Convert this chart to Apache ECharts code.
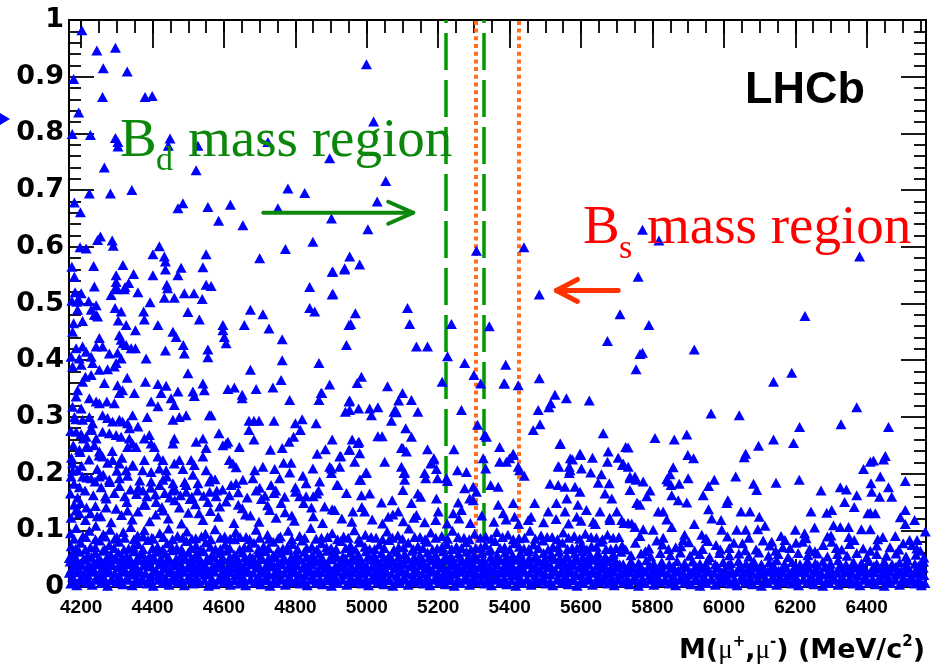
<!DOCTYPE html>
<html>
<head>
<meta charset="utf-8">
<script src="https://cdn.jsdelivr.net/npm/echarts@6/dist/echarts.min.js"></script>
<style>
  html, body { margin: 0; padding: 0; background: #ffffff; }
  #chart { width: 940px; height: 669px; }
</style>
</head>
<body>
<div id="chart"></div>
<script>
// Dimuon invariant mass window and vertical range
const massRange = [4166, 6566];
const yRange = [0, 1];

// Signal windows (MeV/c^2)
const bdWindow = [5221, 5327];
const bsWindow = [5306, 5426];

// Tick positions
const massMajorTicks = [4200, 4400, 4600, 4800, 5000, 5200, 5400, 5600, 5800, 6000, 6200, 6400];
const massMinorTicks = [4200, 4250, 4300, 4350, 4400, 4450, 4500, 4550, 4600, 4650, 4700, 4750,
  4800, 4850, 4900, 4950, 5000, 5050, 5100, 5150, 5200, 5250, 5300, 5350, 5400, 5450, 5500, 5550,
  5600, 5650, 5700, 5750, 5800, 5850, 5900, 5950, 6000, 6050, 6100, 6150, 6200, 6250, 6300, 6350,
  6400, 6450, 6500, 6550];
const yMajorTicks = [0, 0.1, 0.2, 0.3, 0.4, 0.5, 0.6, 0.7, 0.8, 0.9, 1];
const yMinorTicks = [0.02, 0.04, 0.06, 0.08, 0.12, 0.14, 0.16, 0.18, 0.22, 0.24, 0.26, 0.28,
  0.32, 0.34, 0.36, 0.38, 0.42, 0.44, 0.46, 0.48, 0.52, 0.54, 0.56, 0.58, 0.62, 0.64, 0.66, 0.68,
  0.72, 0.74, 0.76, 0.78, 0.82, 0.84, 0.86, 0.88, 0.92, 0.94, 0.96, 0.98];

// Candidates as flat (mass, y) pairs: sparse upper part
const upperEvents = [
  4202,.982, 4244,.946, 4296,.951, 4262,.915, 4329,.909, 4179,.896, 4260,.864, 4379,.864, 4399,.866,
  4193,.837, 4175,.799, 4226,.797, 4296,.792, 4303,.785, 4303,.777, 4449,.791, 4444,.778, 4527,.778,
  4723,.785, 4522,.735, 4265,.740, 4342,.700, 4282,.694, 4223,.694, 4181,.678, 4198,.661, 4471,.668,
  4485,.677, 4555,.670, 4618,.674, 4585,.646, 4653,.638, 4751,.668, 4779,.703, 4826,.695, 4197,.599,
  4214,.597, 4246,.612, 4254,.618, 4287,.611, 4290,.602, 4419,.601, 4401,.587, 4433,.583, 4436,.574,
  4480,.563, 4550,.587, 4541,.564, 4700,.580, 4772,.596, 4849,.609, 4840,.529, 4840,.492, 4854,.486,
  4174,.565, 4181,.547, 4235,.566, 4237,.530, 4183,.520, 4200,.518, 4188,.503, 4221,.504, 4242,.497,
  4228,.489, 4242,.480, 4204,.469, 4179,.465, 4284,.515, 4298,.550, 4298,.538, 4298,.530, 4317,.568,
  4323,.529, 4333,.536, 4347,.552, 4359,.520, 4295,.492, 4312,.486, 4304,.470, 4326,.462, 4375,.486,
  4377,.472, 4393,.502, 4401,.550, 4440,.533, 4442,.527, 4433,.510, 4461,.510, 4471,.550, 4489,.518,
  4516,.518, 4539,.508, 4499,.485, 4531,.472, 4550,.533, 4564,.531, 4415,.462, 4597,.462, 4657,.462,
  4674,.489, 4709,.481, 4999,.922, 5019,.821, 4896,.756, 5053,.716, 5029,.680, 4901,.650, 5003,.631,
  4952,.583, 4938,.562, 4980,.569, 4905,.556, 4905,.517, 4968,.483, 4955,.464, 5114,.492, 5120,.464,
  5237,.464, 5307,.593, 5343,.460, 5440,.599, 5483,.516, 5709,.481, 5760,.547, 5772,.630, 5818,.611,
  5790,.462, 6227,.478, 6380,.583, 4436,.560, 4298,.525, 4321,.525, 4174,.505, 4195,.505, 4190,.489,
  4237,.480, 4246,.477, 4176,.450, 4352,.453, 4457,.450, 4903,.556, 4938,.560, 4903,.516, 4597,.453,
  4726,.456, 4950,.462
];

// Middle band
const middleEvents = [
  4466,.441, 4251,.439, 4307,.444, 4312,.436, 4317,.430, 4326,.427, 4242,.424, 4260,.424, 4340,.421,
  4352,.421, 4486,.427, 4489,.412, 4436,.417, 4555,.419, 4555,.405, 4186,.421, 4204,.424, 4214,.415,
  4172,.406, 4195,.403, 4228,.406, 4232,.395, 4279,.412, 4302,.413, 4312,.403, 4298,.395, 4293,.389,
  4382,.403, 4176,.389, 4200,.392, 4251,.383, 4274,.384, 4499,.377, 4212,.371, 4228,.374, 4204,.362,
  4329,.369, 4265,.360, 4302,.356, 4316,.347, 4307,.342, 4380,.362, 4415,.358, 4438,.355, 4424,.342,
  4471,.345, 4513,.345, 4517,.337, 4541,.359, 4545,.347, 4349,.342, 4190,.347, 4186,.336, 4223,.333,
  4242,.327, 4251,.324, 4272,.327, 4293,.324, 4396,.327, 4415,.319, 4452,.333, 4461,.321, 4475,.300,
  4457,.295, 4494,.303, 4559,.303, 4176,.318, 4200,.315, 4181,.300, 4204,.295, 4223,.300, 4232,.289,
  4260,.303, 4274,.298, 4288,.292, 4307,.295, 4316,.292, 4330,.289, 4344,.303, 4359,.283, 4335,.280,
  4385,.300, 4186,.274, 4200,.270, 4214,.265, 4228,.277, 4242,.262, 4260,.274, 4279,.271, 4298,.268,
  4312,.265, 4335,.262, 4344,.253, 4354,.247, 4330,.247, 4377,.262, 4391,.268, 4396,.253, 4405,.247,
  4461,.262, 4457,.253, 4522,.256, 4541,.262, 4550,.245, 4377,.224, 4415,.230, 4429,.224, 4461,.218,
  4475,.224, 4508,.224, 4517,.215, 4541,.230, 4195,.242, 4214,.247, 4237,.250, 4251,.239, 4260,.230,
  4288,.224, 4307,.218, 4326,.206, 4344,.215, 4372,.206, 4396,.203, 4419,.209, 4438,.206, 4485,.208,
  4513,.198, 4550,.206, 4176,.218, 4190,.206, 4172,.195, 4204,.195, 4228,.192, 4251,.195, 4279,.189,
  4307,.192, 4396,.186, 4429,.189, 4457,.183, 4494,.180, 4527,.183, 4559,.186,
  4601,.441, 4606,.430, 4763,.437, 4763,.400, 4866,.395, 4674,.383, 4760,.365, 4737,.352, 4690,.349,
  4629,.352, 4611,.349, 4651,.339, 4651,.333, 4784,.330, 4866,.330, 4872,.342, 4950,.327, 4564,.303,
  4670,.293, 4684,.293, 4698,.293, 4670,.277, 4684,.260, 4740,.293, 4800,.289, 4819,.296, 4814,.277,
  4795,.265, 4858,.289, 4586,.271, 4606,.253, 4643,.247, 4597,.250, 4611,.256, 4782,.256, 4763,.245,
  4730,.242, 4861,.235, 4924,.230, 4950,.242, 4615,.224, 4625,.218, 4634,.211, 4686,.206, 4709,.212,
  4742,.208, 4767,.219, 4788,.219, 4784,.202, 4849,.209, 4821,.196, 4901,.209, 4924,.212, 4564,.192,
  4634,.183, 4653,.189, 4681,.192, 4732,.180, 4756,.192, 4830,.183, 4868,.186, 4919,.180,
  4943,.427, 5139,.424, 5170,.424, 5674,.434, 5765,.411, 5226,.407, 5274,.395, 5389,.392, 5300,.374,
  4985,.371, 4973,.360, 4896,.357, 5058,.354, 5211,.362, 5319,.359, 5384,.359, 5424,.356, 5483,.368,
  4874,.342, 5100,.342, 5089,.329, 5125,.330, 5527,.339, 5559,.333, 5623,.329, 5515,.324, 5510,.317,
  4952,.329, 4940,.309, 4952,.312, 4977,.315, 5008,.315, 5013,.303, 5031,.317, 5080,.312, 5076,.309,
  5143,.309, 5265,.312, 5480,.312, 5485,.287, 5466,.277, 5069,.293, 5109,.280, 5310,.286, 5330,.268,
  5662,.271, 5031,.266, 5043,.266, 5125,.265, 4903,.260, 4959,.260, 4975,.254, 5372,.247, 5541,.252,
  5725,.247, 5676,.239, 5101,.245, 5111,.239, 5170,.243, 5244,.243, 4884,.243, 4927,.231, 4980,.236,
  5050,.221, 5188,.227, 5180,.219, 5410,.233, 5400,.227, 5372,.221, 5424,.212, 5441,.196, 5570,.227,
  5599,.233, 5632,.228, 5674,.221, 5704,.228, 5716,.215, 5538,.212, 5567,.212, 5601,.209, 5627,.202,
  5657,.199, 5567,.201, 4896,.212, 4901,.201, 4966,.221, 4997,.201, 4983,.189, 5097,.212, 5104,.201,
  5162,.201, 5198,.192, 5226,.187, 5254,.206, 5279,.203, 5274,.174, 5347,.180, 5368,.177, 5298,.177,
  5513,.182, 5536,.180, 5555,.177, 5583,.177, 5597,.168, 5648,.184, 5679,.183, 5667,.165, 5686,.156,
  5737,.171, 5758,.148, 4916,.180, 4943,.166, 4985,.162, 5008,.165, 5041,.149, 5071,.153, 5101,.171,
  5125,.148, 5143,.165, 5151,.159, 5195,.156, 5256,.149, 5288,.156, 5307,.168, 5298,.153, 5368,.145,
  5410,.148, 5470,.148, 5531,.148, 5560,.156, 5591,.145, 5615,.136, 5653,.133, 5700,.133, 4882,.142,
  4910,.136, 4961,.133, 4994,.133, 5060,.124, 5088,.133, 5139,.127, 5200,.133, 5242,.130, 5265,.136,
  5382,.130, 5414,.124, 5452,.118, 5508,.133, 5555,.133, 5588,.124, 5634,.115, 5681,.118, 5714,.118,
  5742,.112, 5083,.308, 4978,.256, 4952,.242, 5097,.245, 5187,.225, 5181,.218, 5106,.202, 4999,.202,
  4980,.189, 5106,.189, 5165,.192, 5195,.208, 5223,.192, 5326,.227, 5333,.209, 5386,.359, 5335,.265,
  5410,.235, 5391,.221, 5542,.253, 5597,.235, 5576,.225, 5428,.206, 5536,.213, 5569,.206, 5737,.195,
  5732,.246, 5754,.189, 5844,.186,
  5772,.413, 5754,.384, 5917,.419, 6139,.362, 6190,.378, 5964,.306, 6043,.303, 6372,.317, 6328,.287,
  6212,.282, 6461,.282, 5807,.263, 5861,.260, 5896,.269, 6139,.260, 6195,.254, 6097,.249, 6061,.235,
  6057,.229, 5899,.233, 5915,.227, 5718,.218, 5732,.212, 6391,.208, 6410,.221, 6419,.223, 6452,.231,
  6447,.225, 5858,.211, 5849,.199, 5840,.190, 5737,.192, 5751,.195, 5774,.186, 5900,.192, 5973,.189,
  6033,.195, 5957,.178, 5875,.182, 5852,.180, 6083,.182, 6092,.171, 6146,.184, 6211,.189, 6272,.170,
  6326,.176, 6343,.172, 6372,.162, 6412,.183, 6414,.168, 6438,.195, 6461,.176, 6470,.159, 6436,.159,
  6508,.187, 5942,.162, 5896,.149, 5872,.153, 5854,.162, 5793,.170, 5784,.160, 5756,.148, 5765,.145,
  6011,.153, 6008,.148, 6048,.133, 6073,.133, 6099,.124, 5957,.137, 5992,.118, 5966,.121, 5917,.111,
  5816,.133, 5830,.133, 5840,.119, 5732,.113, 6244,.133, 6288,.131, 6302,.136, 6338,.150, 6365,.141,
  6410,.131, 6424,.130, 6403,.130, 6494,.123, 6508,.136, 6534,.118, 6508,.111, 6564,.098, 6541,.083,
  6527,.074, 6559,.045, 6200,.101, 6254,.105, 6226,.095, 6326,.106, 6349,.106, 6307,.109, 6385,.102,
  6410,.102, 6431,.084, 6302,.080, 6171,.083, 6134,.080, 6115,.108, 6095,.102, 6036,.101, 6061,.101,
  5994,.101, 5938,.092, 5854,.106, 5886,.083, 5802,.101, 5774,.102, 5751,.106
];

// Dense lower band
const lowerEvents = [
  // y ~ 0.00 - 0.01
  4171,.006, 4188,.003, 4213,.008, 4231,.004, 4256,.007, 4274,.002, 4299,.009, 4317,.005, 4343,.003,
  4360,.008, 4385,.006, 4402,.002, 4428,.007, 4446,.004, 4471,.009, 4489,.003, 4514,.006, 4531,.008,
  4557,.002, 4575,.005, 4600,.009, 4618,.004, 4643,.006, 4661,.003, 4686,.008, 4704,.005, 4729,.002,
  4747,.007, 4772,.004, 4790,.009, 4815,.006, 4833,.003, 4858,.008, 4876,.005, 4901,.002, 4919,.007,
  4944,.004, 4962,.009, 4987,.006, 5005,.003, 5030,.008, 5048,.005, 5073,.002, 5091,.007, 5116,.004,
  5134,.009, 5159,.006, 5177,.003, 5202,.008, 5220,.005, 5245,.002, 5263,.007, 5288,.004, 5306,.009,
  5331,.006, 5349,.003, 5374,.008, 5392,.005, 5417,.002, 5435,.007, 5460,.004, 5478,.009, 5503,.006,
  5521,.003, 5546,.008, 5564,.005, 5589,.002, 5607,.007, 5632,.004, 5650,.009, 5675,.006, 5693,.003,
  5718,.008, 5736,.005, 5761,.002, 5779,.007, 5804,.004, 5822,.009, 5847,.006, 5865,.003, 5890,.008,
  5908,.005, 5933,.002, 5951,.007, 5976,.004, 5994,.009, 6019,.006, 6037,.003, 6062,.008, 6080,.005,
  6105,.002, 6123,.007, 6148,.004, 6166,.009, 6191,.006, 6209,.003, 6234,.008, 6252,.005, 6277,.002,
  6295,.007, 6320,.004, 6338,.009, 6363,.006, 6381,.003, 6406,.008, 6424,.005, 6449,.002, 6467,.007,
  6492,.004, 6510,.009, 6535,.006, 6553,.003, 6563,.007,
  // y ~ 0.010 - 0.013
  4181,.011, 4201,.012, 4222,.010, 4244,.013, 4265,.011, 4287,.012, 4309,.010, 4330,.013, 4352,.011,
  4373,.012, 4395,.010, 4416,.013, 4438,.011, 4459,.012, 4481,.010, 4502,.013, 4524,.011, 4545,.012,
  4567,.010, 4588,.013, 4610,.011, 4631,.012, 4653,.010, 4674,.013, 4696,.011, 4717,.012, 4739,.010,
  4760,.013, 4782,.011, 4803,.012, 4825,.010, 4846,.013, 4868,.011, 4889,.012, 4911,.010, 4932,.013,
  4954,.011, 4975,.012, 4997,.010, 5018,.013, 5040,.011, 5061,.012, 5083,.010, 5104,.013, 5126,.011,
  5147,.012, 5169,.010, 5190,.013, 5212,.011, 5233,.012, 5255,.010, 5276,.013, 5298,.011, 5319,.012,
  5341,.010, 5362,.013, 5384,.011, 5405,.012, 5427,.010, 5448,.013, 5470,.011, 5491,.012, 5513,.010,
  5534,.013, 5556,.011, 5577,.012, 5599,.010, 5620,.013, 5642,.011, 5663,.012, 5685,.010, 5706,.013,
  5728,.011, 5749,.012, 5771,.010, 5792,.013, 5814,.011, 5835,.012, 5857,.010, 5878,.013, 5900,.011,
  5921,.012, 5943,.010, 5964,.013, 5986,.011, 6007,.012, 6029,.010, 6050,.013, 6072,.011, 6093,.012,
  6115,.010, 6136,.013, 6158,.011, 6179,.012, 6201,.010, 6222,.013, 6244,.011, 6265,.012, 6287,.010,
  6308,.013, 6330,.011, 6351,.012, 6373,.010, 6394,.013, 6416,.011, 6437,.012, 6459,.010, 6480,.013,
  6502,.011, 6523,.012, 6545,.010,
  // y ~ 0.014 - 0.022
  4176,.018, 4198,.015, 4219,.021, 4242,.016, 4262,.019, 4285,.014, 4306,.020, 4329,.017, 4351,.022,
  4371,.015, 4393,.018, 4416,.021, 4437,.016, 4458,.019, 4481,.014, 4502,.020, 4523,.017, 4546,.022,
  4566,.015, 4589,.019, 4610,.016, 4632,.021, 4653,.018, 4675,.014, 4697,.020, 4718,.017, 4739,.022,
  4761,.016, 4783,.019, 4804,.015, 4826,.021, 4847,.018, 4869,.014, 4890,.020, 4912,.017, 4933,.022,
  4955,.016, 4976,.019, 4998,.015, 5019,.021, 5041,.018, 5062,.014, 5084,.020, 5105,.017, 5127,.022,
  5148,.016, 5170,.019, 5191,.015, 5213,.021, 5234,.018, 5256,.014, 5277,.020, 5299,.017, 5320,.022,
  5342,.016, 5363,.019, 5385,.015, 5406,.021, 5428,.018, 5449,.014, 5471,.020, 5492,.017, 5514,.022,
  5535,.016, 5557,.019, 5578,.015, 5600,.021, 5621,.018, 5643,.014, 5664,.020, 5686,.017, 5707,.022,
  5729,.016, 5750,.019, 5772,.015, 5793,.021, 5815,.018, 5836,.014, 5858,.020, 5879,.017, 5901,.022,
  5922,.016, 5944,.019, 5965,.015, 5987,.021, 6008,.018, 6030,.014, 6051,.020, 6073,.017, 6094,.022,
  6116,.016, 6137,.019, 6159,.015, 6180,.021, 6202,.018, 6223,.014, 6245,.020, 6266,.017, 6288,.022,
  6309,.016, 6331,.019, 6352,.015, 6374,.021, 6395,.018, 6417,.014, 6438,.020, 6460,.017, 6481,.022,
  6503,.016, 6524,.019, 6546,.015, 6560,.021,
  // y ~ 0.024 - 0.027
  4167,.025, 4187,.026, 4208,.024, 4230,.027, 4251,.025, 4273,.026, 4295,.024, 4316,.027, 4338,.025,
  4359,.026, 4381,.024, 4402,.027, 4424,.025, 4445,.026, 4467,.024, 4488,.027, 4510,.025, 4531,.026,
  4553,.024, 4574,.027, 4596,.025, 4617,.026, 4639,.024, 4660,.027, 4682,.025, 4703,.026, 4725,.024,
  4746,.027, 4768,.025, 4789,.026, 4811,.024, 4832,.027, 4854,.025, 4875,.026, 4897,.024, 4918,.027,
  4940,.025, 4961,.026, 4983,.024, 5004,.027, 5026,.025, 5047,.026, 5069,.024, 5090,.027, 5112,.025,
  5133,.026, 5155,.024, 5176,.027, 5198,.025, 5219,.026, 5241,.024, 5262,.027, 5284,.025, 5305,.026,
  5327,.024, 5348,.027, 5370,.025, 5391,.026, 5413,.024, 5434,.027, 5456,.025, 5477,.026, 5499,.024,
  5520,.027, 5542,.025, 5563,.026, 5585,.024, 5606,.027, 5628,.025, 5649,.026, 5671,.024, 5692,.027,
  5714,.025, 5735,.026, 5757,.024, 5778,.027, 5800,.025, 5821,.026, 5843,.024, 5864,.027, 5886,.025,
  5907,.026, 5929,.024, 5950,.027, 5972,.025, 5993,.026, 6015,.024, 6036,.027, 6058,.025, 6079,.026,
  6101,.024, 6122,.027, 6144,.025, 6165,.026, 6187,.024, 6208,.027, 6230,.025, 6251,.026, 6273,.024,
  6294,.027, 6316,.025, 6337,.026, 6359,.024, 6380,.027, 6402,.025, 6423,.026, 6445,.024, 6466,.027,
  6488,.025, 6509,.026, 6531,.024, 6552,.027,
  // y ~ 0.027 - 0.036
  4172,.031, 4193,.028, 4216,.034, 4237,.029, 4259,.033, 4280,.027, 4302,.035, 4323,.030, 4346,.032,
  4366,.028, 4389,.036, 4410,.029, 4432,.033, 4452,.031, 4475,.027, 4497,.034, 4518,.030, 4540,.032,
  4561,.028, 4583,.035, 4604,.029, 4626,.033, 4647,.031, 4669,.027, 4691,.034, 4712,.030, 4733,.036,
  4755,.028, 4777,.032, 4798,.029, 4820,.034, 4841,.031, 4863,.027, 4884,.033, 4906,.030, 4927,.035,
  4949,.028, 4970,.032, 4992,.029, 5013,.034, 5035,.031, 5056,.027, 5078,.033, 5099,.030, 5121,.036,
  5142,.028, 5164,.032, 5185,.029, 5207,.034, 5228,.031, 5250,.027, 5271,.033, 5293,.030, 5314,.035,
  5336,.028, 5357,.032, 5379,.029, 5400,.034, 5422,.031, 5443,.027, 5465,.033, 5486,.030, 5508,.035,
  5529,.028, 5551,.032, 5572,.029, 5594,.034, 5615,.031, 5637,.027, 5658,.033, 5680,.030, 5701,.035,
  5723,.028, 5744,.032, 5766,.029, 5787,.034, 5809,.031, 5830,.027, 5852,.033, 5873,.030, 5895,.035,
  5916,.028, 5938,.032, 5959,.029, 5981,.034, 6002,.031, 6024,.027, 6045,.033, 6067,.030, 6088,.035,
  6110,.028, 6131,.032, 6153,.029, 6174,.034, 6196,.031, 6217,.027, 6239,.033, 6260,.030, 6282,.035,
  6303,.028, 6325,.032, 6346,.029, 6368,.034, 6389,.031, 6411,.027, 6432,.033, 6454,.030, 6475,.035,
  6497,.028, 6518,.032, 6540,.029, 6558,.034,
  // y ~ 0.036 - 0.040
  4180,.038, 4202,.039, 4224,.037, 4245,.040, 4267,.038, 4288,.039, 4310,.037, 4331,.040, 4353,.038,
  4375,.039, 4396,.037, 4418,.040, 4439,.038, 4461,.039, 4482,.037, 4504,.040, 4526,.038, 4547,.039,
  4569,.037, 4590,.040, 4612,.038, 4633,.039, 4655,.037, 4676,.040, 4698,.038, 4719,.039, 4741,.037,
  4762,.040, 4784,.038, 4805,.039, 4827,.037, 4848,.040, 4870,.038, 4891,.039, 4913,.037, 4934,.040,
  4956,.038, 4977,.039, 4999,.037, 5020,.040, 5042,.038, 5063,.039, 5085,.037, 5106,.040, 5128,.038,
  5149,.039, 5171,.037, 5192,.040, 5214,.038, 5235,.039, 5257,.037, 5278,.040, 5300,.038, 5321,.039,
  5343,.037, 5364,.040, 5386,.038, 5407,.039, 5429,.037, 5450,.040, 5472,.038, 5493,.039, 5515,.037,
  5536,.040, 5558,.038, 5579,.039, 5601,.037, 5622,.040, 5644,.038, 5665,.039, 5687,.037, 5708,.040,
  5735,.037, 5765,.039, 5795,.036, 5825,.038, 5858,.036, 5889,.039, 5921,.037, 5950,.038, 5982,.036,
  6012,.039, 6045,.037, 6075,.038, 6108,.036, 6138,.039, 6170,.037, 6200,.038, 6232,.036, 6262,.039,
  6295,.037, 6325,.038, 6357,.036, 6388,.039, 6420,.037, 6450,.038, 6482,.036, 6512,.039, 6545,.037,
  // y ~ 0.040 - 0.050
  4169,.045, 4190,.042, 4213,.048, 4234,.041, 4256,.046, 4278,.043, 4299,.049, 4320,.044, 4342,.041,
  4364,.047, 4385,.043, 4407,.048, 4428,.042, 4450,.046, 4471,.044, 4493,.049, 4514,.041, 4536,.045,
  4557,.047, 4579,.042, 4600,.048, 4622,.044, 4643,.041, 4665,.046, 4686,.043, 4708,.049, 4729,.045,
  4751,.041, 4772,.047, 4794,.043, 4815,.048, 4837,.042, 4858,.046, 4880,.044, 4901,.049, 4923,.041,
  4944,.045, 4966,.047, 4987,.042, 5009,.048, 5030,.044, 5052,.041, 5073,.046, 5095,.043, 5116,.049,
  5138,.045, 5159,.041, 5181,.047, 5202,.043, 5224,.048, 5245,.042, 5267,.046, 5288,.044, 5310,.049,
  5331,.041, 5353,.045, 5374,.047, 5396,.042, 5417,.048, 5439,.044, 5460,.041, 5482,.046, 5503,.043,
  5525,.049, 5546,.045, 5568,.041, 5589,.047, 5611,.043, 5632,.048, 5654,.042, 5675,.046, 5697,.044,
  5718,.040, 5740,.045, 5761,.042, 5783,.047, 5804,.041, 5826,.044, 5847,.040, 5869,.046, 5890,.042,
  5912,.045, 5933,.041, 5955,.047, 5976,.040, 5998,.044, 6019,.042, 6041,.046, 6062,.041, 6084,.045,
  6105,.040, 6127,.043, 6148,.047, 6170,.041, 6191,.044, 6213,.040, 6234,.046, 6256,.042, 6277,.045,
  6299,.041, 6320,.047, 6342,.040, 6363,.044, 6385,.042, 6406,.046, 6428,.041, 6449,.045, 6471,.040,
  6492,.043, 6514,.047, 6535,.041, 6556,.044,
  // y ~ 0.050 - 0.053
  4167,.051, 4185,.052, 4207,.050, 4229,.053, 4250,.051, 4272,.052, 4293,.050, 4315,.053, 4336,.051,
  4358,.052, 4380,.050, 4401,.053, 4423,.051, 4444,.052, 4466,.050, 4487,.053, 4509,.051, 4530,.052,
  4552,.050, 4573,.053, 4595,.051, 4616,.052, 4638,.050, 4659,.053, 4681,.051, 4702,.052, 4724,.050,
  4745,.053, 4767,.051, 4788,.052, 4810,.050, 4831,.053, 4853,.051, 4874,.052, 4896,.050, 4917,.053,
  4939,.051, 4960,.052, 4982,.050, 5003,.053, 5025,.051, 5046,.052, 5068,.050, 5089,.053, 5111,.051,
  5132,.052, 5154,.050, 5175,.053, 5197,.051, 5218,.052, 5240,.050, 5261,.053, 5283,.051, 5304,.052,
  5326,.050, 5347,.053, 5369,.051, 5390,.052, 5412,.050, 5433,.053, 5455,.051, 5476,.052, 5498,.050,
  5519,.053, 5541,.051, 5562,.052, 5584,.050, 5605,.053, 5627,.051, 5648,.052, 5670,.050, 5691,.053,
  // y ~ 0.052 - 0.066
  4174,.058, 4195,.062, 4218,.055, 4240,.060, 4261,.064, 4283,.057, 4304,.061, 4327,.054, 4349,.063,
  4370,.058, 4392,.055, 4414,.062, 4436,.059, 4457,.065, 4479,.056, 4500,.061, 4522,.058, 4543,.063,
  4565,.055, 4587,.060, 4608,.064, 4630,.057, 4652,.061, 4673,.054, 4695,.059, 4716,.063, 4738,.056,
  4760,.060, 4781,.065, 4803,.057, 4825,.062, 4846,.055, 4868,.059, 4889,.064, 4911,.058, 4933,.054,
  4954,.061, 4976,.057, 4998,.063, 5019,.056, 5041,.060, 5062,.055, 5084,.062, 5106,.058, 5127,.064,
  5149,.056, 5170,.061, 5192,.057, 5214,.063, 5235,.055, 5257,.059, 5279,.062, 5300,.056, 5322,.060,
  5343,.064, 5365,.057, 5387,.061, 5408,.055, 5430,.059, 5452,.063, 5473,.056, 5495,.060, 5517,.058,
  5538,.062, 5560,.055, 5582,.059, 5603,.063, 5625,.057, 5647,.060, 5668,.054, 5690,.058, 5712,.062,
  5740,.056, 5768,.059, 5795,.054, 5822,.060, 5850,.056, 5878,.061, 5905,.055, 5932,.058, 5960,.053,
  5988,.060, 6015,.056, 6042,.059, 6070,.054, 6098,.061, 6125,.055, 6152,.058, 6180,.053, 6208,.060,
  6235,.056, 6262,.059, 6290,.054, 6318,.058, 6345,.055, 6372,.060, 6400,.053, 6428,.058, 6455,.055,
  6482,.059, 6510,.054, 6538,.057, 6560,.052,
  // y ~ 0.066 - 0.072
  4185,.068, 4212,.066, 4240,.070, 4266,.067, 4292,.069, 4320,.066, 4346,.071, 4373,.067, 4400,.069,
  4428,.066, 4454,.070, 4481,.067, 4508,.069, 4535,.066, 4562,.071, 4590,.067, 4616,.069, 4644,.066,
  4670,.070, 4697,.067, 4724,.069, 4752,.066, 4778,.071, 4806,.067, 4832,.069, 4860,.066, 4887,.070,
  4914,.067, 4941,.069, 4968,.066, 4995,.071, 5022,.067, 5049,.069, 5076,.066, 5103,.070, 5130,.067,
  5157,.069, 5184,.066, 5211,.071, 5238,.067, 5265,.069, 5292,.066, 5319,.070, 5346,.067, 5373,.069,
  5400,.066, 5427,.071, 5454,.067, 5481,.069, 5508,.066, 5535,.070, 5562,.067, 5589,.069, 5616,.066,
  5643,.071, 5670,.067, 5698,.069,
  // y ~ 0.066 - 0.085
  4172,.072, 4199,.078, 4226,.070, 4252,.082, 4279,.074, 4306,.080, 4333,.068, 4360,.076, 4387,.083,
  4414,.071, 4441,.077, 4468,.069, 4495,.081, 4522,.073, 4549,.079, 4576,.067, 4603,.075, 4630,.084,
  4657,.070, 4684,.078, 4711,.072, 4738,.080, 4765,.068, 4792,.076, 4819,.082, 4846,.071, 4873,.077,
  4900,.069, 4927,.081, 4954,.073, 4981,.079, 5008,.067, 5035,.075, 5062,.083, 5089,.070, 5116,.078,
  5143,.072, 5170,.080, 5197,.068, 5224,.076, 5251,.071, 5278,.079, 5305,.069, 5332,.074, 5359,.081,
  5386,.070, 5413,.077, 5440,.068, 5467,.075, 5494,.082, 5521,.071, 5548,.078, 5575,.069, 5602,.076,
  5629,.072, 5656,.080, 5683,.067, 5715,.073, 5752,.078, 5790,.068, 5828,.075, 5865,.070, 5902,.079,
  5940,.067, 5978,.074, 6015,.069, 6052,.077, 6090,.066, 6128,.073, 6165,.070, 6202,.078, 6240,.067,
  6278,.074, 6315,.069, 6352,.076, 6390,.068, 6428,.073, 6465,.070, 6502,.077, 6540,.068,
  5725,.066, 5780,.063, 5812,.082, 5845,.067, 5880,.072, 5918,.064, 5955,.081, 5990,.066, 6028,.078,
  6060,.065, 6110,.082, 6145,.064, 6185,.069, 6220,.080, 6255,.063, 6300,.091, 6330,.066, 6365,.083,
  6410,.064, 6445,.088, 6490,.066, 6520,.083, 6550,.064,
  // y ~ 0.080 - 0.090
  4180,.085, 4213,.088, 4240,.084, 4268,.089, 4294,.085, 4322,.087, 4348,.084, 4374,.089, 4402,.085,
  4430,.088, 4456,.084, 4484,.087, 4510,.085, 4537,.089, 4563,.084, 4590,.087, 4617,.085, 4645,.088,
  4672,.084, 4700,.087, 4727,.085, 4758,.089, 4790,.084, 4826,.087, 4858,.085, 4890,.088, 4918,.084,
  4948,.087, 4978,.085, 5012,.088, 5044,.084, 5072,.087, 5100,.085, 5134,.088, 5163,.084, 5193,.087,
  5226,.085, 5256,.088, 5287,.084, 5318,.087, 5348,.085, 5380,.088, 5410,.084, 5442,.087, 5472,.085,
  5505,.088, 5534,.084, 5565,.087, 5596,.085, 5628,.088, 5660,.084, 5690,.087,
  // y ~ 0.085 - 0.11
  4170,.095, 4186,.104, 4205,.090, 4223,.099, 4241,.108, 4262,.093, 4281,.101, 4300,.088, 4318,.097,
  4339,.106, 4358,.091, 4377,.100, 4398,.087, 4420,.095, 4445,.103, 4470,.090, 4496,.098, 4521,.086,
  4548,.094, 4575,.102, 4602,.089, 4633,.097, 4662,.088, 4690,.101, 4722,.092, 4752,.086, 4780,.099,
  4812,.090, 4843,.104, 4873,.087, 4903,.095, 4935,.089, 4965,.100, 4996,.092, 5026,.087, 5057,.098,
  5087,.091, 5118,.103, 5149,.088, 5179,.096, 5210,.090, 5240,.099, 5272,.087, 5302,.094, 5333,.089,
  5364,.097, 5395,.092, 5426,.086, 5457,.099, 5488,.091, 5519,.088, 5550,.096, 5581,.090, 5612,.094,
  5643,.087, 5674,.092, 5706,.088, 5765,.090, 5830,.087, 5890,.092, 5950,.086, 6010,.089, 6070,.087,
  6160,.090, 6230,.086, 6290,.089, 6350,.088, 6480,.090,
  // y ~ 0.11 - 0.16
  4172,.122, 4185,.135, 4198,.148, 4212,.118, 4226,.130, 4240,.143, 4255,.125, 4270,.156, 4284,.114,
  4298,.138, 4313,.127, 4328,.150, 4343,.119, 4359,.133, 4375,.145, 4392,.116, 4409,.128, 4426,.141,
  4444,.121, 4462,.153, 4481,.112, 4500,.131, 4520,.146, 4541,.118, 4562,.134, 4584,.124, 4606,.151,
  4628,.113, 4651,.139, 4674,.126, 4698,.115, 4722,.144, 4746,.122, 4771,.132, 4797,.117, 4823,.148,
  4850,.125, 4876,.113, 4903,.137, 4930,.121, 4958,.115, 4986,.141, 5015,.119, 5044,.112, 5073,.128,
  5102,.116, 5132,.122, 5162,.114, 5193,.118, 5225,.112, 5258,.121, 5290,.113, 5322,.126, 5356,.115,
  5390,.119, 5425,.111, 5460,.124, 5495,.114, 5530,.120, 5565,.112, 5600,.117, 5640,.111, 5680,.122,
  5720,.113,
  // left-side cluster, y ~ 0.12 - 0.30
  4170,.165, 4180,.182, 4176,.205, 4173,.228, 4178,.250, 4171,.275, 4185,.296, 4190,.158, 4195,.176,
  4201,.214, 4197,.238, 4206,.262, 4211,.170, 4216,.193, 4222,.225, 4219,.247, 4228,.280, 4234,.162,
  4239,.186, 4245,.208, 4250,.232, 4256,.176, 4262,.198, 4268,.160, 4274,.219, 4280,.185, 4287,.240,
  4293,.166, 4300,.205, 4307,.178, 4314,.228, 4322,.160, 4330,.196, 4338,.172, 4346,.214, 4355,.164,
  4364,.188, 4373,.170, 4384,.160, 4395,.175, 4408,.163, 4420,.180, 4434,.166, 4448,.158, 4463,.172,
  4478,.162, 4494,.168, 4510,.159, 4526,.170, 4543,.161, 4560,.168, 4578,.160, 4596,.172, 4615,.162,
  4640,.167, 4665,.158, 4690,.170, 4715,.161, 4740,.166, 4770,.159, 4800,.168, 4830,.160, 4860,.165,
  4640,.145, 4660,.128, 4705,.155, 4728,.136, 4760,.148, 4790,.126, 4812,.160, 4845,.140, 4865,.170,
  4620,.180, 4588,.142, 4575,.190, 4700,.175, 4745,.170, 4800,.176, 4850,.160, 4410,.150, 4430,.135,
  4455,.170, 4475,.140, 4505,.155, 4530,.130, 4555,.150, 4580,.170, 4490,.185, 4440,.195, 4360,.175,
  4380,.145, 4330,.135, 4270,.140, 4245,.125, 4215,.140, 4195,.130, 4180,.145
];

function toPairs(flat) {
  const out = [];
  for (let i = 0; i + 1 < flat.length; i += 2) out.push([flat[i], flat[i + 1]]);
  return out;
}
const candidates = toPairs(upperEvents).concat(toPairs(middleEvents), toPairs(lowerEvents));

// Plot frame in pixels (grid placement)
const gridBox = { left: 69, right: 14, top: 20, bottom: 82 };
const chartSize = [940, 669];

function frameLine() { return { show: true, onZero: false, lineStyle: { color: '#000', width: 2 } }; }
function tickLine() { return { color: '#000', width: 1.8 }; }

function massAxis(position, ticks, length, labels, gridIndex) {
  return {
    type: 'value', gridIndex: gridIndex, position: position, min: massRange[0], max: massRange[1],
    axisLine: frameLine(),
    axisTick: { show: true, inside: true, length: length, lineStyle: tickLine(), customValues: ticks },
    axisLabel: labels ? {
      show: true, customValues: ticks, margin: 11, color: '#000',
      fontFamily: 'Liberation Sans', fontWeight: 'bold', fontSize: 19,
      formatter: function (v) { return String(Math.round(v)); }
    } : { show: false },
    splitLine: { show: false }
  };
}
function yAxisDef(position, labels, gridIndex, hidden) {
  if (hidden) return { type: 'value', gridIndex: gridIndex, min: yRange[0], max: yRange[1], show: false };
  return {
    type: 'value', gridIndex: gridIndex, position: position, min: yRange[0], max: yRange[1], interval: 0.1,
    axisLine: frameLine(),
    axisTick: { show: true, inside: true, length: 25, lineStyle: tickLine() },
    minorTick: { show: true, splitNumber: 5, length: 12, lineStyle: tickLine() },
    axisLabel: labels ? {
      show: true, margin: 5, color: '#000', fontFamily: 'DejaVu Sans', fontWeight: 'bold', fontSize: 27,
      formatter: function (v) { return String(Math.round(v * 10) / 10); }
    } : { show: false },
    splitLine: { show: false }
  };
}

const windowLines = [
  { xAxis: bdWindow[0], lineStyle: { color: '#009a00', width: 3.5, type: [37, 10] } },
  { xAxis: bdWindow[1], lineStyle: { color: '#009a00', width: 3.5, type: [37, 10] } },
  { xAxis: bsWindow[0], lineStyle: { color: '#ff6d1f', width: 4, type: [4, 3.7] } },
  { xAxis: bsWindow[1], lineStyle: { color: '#ff6d1f', width: 4, type: [4, 3.7] } }
];

// Annotation arrows, given in data coordinates
const bdArrow = { from: [4710, 0.660], to: [5130, 0.660] };
const bsArrow = { from: [5704, 0.523], to: [5531, 0.523] };

// Map data coordinates onto the grid rectangle for overlay annotations
function toPx(p) {
  const x0 = gridBox.left, x1 = chartSize[0] - gridBox.right;
  const y0 = chartSize[1] - gridBox.bottom, y1 = gridBox.top;
  return [
    x0 + (p[0] - massRange[0]) / (massRange[1] - massRange[0]) * (x1 - x0),
    y0 + (p[1] - yRange[0]) / (yRange[1] - yRange[0]) * (y1 - y0)
  ];
}

function arrowElements(def, color, width, headLen, headHalf) {
  const a = toPx(def.from), b = toPx(def.to);
  const dir = b[0] > a[0] ? 1 : -1;
  return [
    { type: 'polyline', zlevel: 2, z: 10, shape: { points: [a, b] },
      style: { stroke: color, lineWidth: width, fill: null, lineCap: 'round' } },
    { type: 'polyline', zlevel: 2, z: 10,
      shape: { points: [[b[0] - dir * headLen, b[1] - headHalf], b, [b[0] - dir * headLen, b[1] + headHalf]] },
      style: { stroke: color, lineWidth: width, fill: null, lineCap: 'round', lineJoin: 'round' } }
  ];
}

function label(text, x, baseline, size, family, weight, color) {
  return {
    type: 'text', zlevel: 2, z: 10, x: x, y: baseline - 0.34 * size,
    style: { text: text, font: weight + ' ' + size + 'px "' + family + '"', fill: color, align: 'left', verticalAlign: 'middle' }
  };
}

const green = '#0b880b';
const red = '#ff0000';

const graphics = []
  .concat(arrowElements(bdArrow, green, 4, 25, 11))
  .concat(arrowElements(bsArrow, '#ff3300', 5, 21, 11))
  .concat([
    label('B', 120, 160, 55, 'Liberation Serif', 'normal', green),
    label('d', 156, 173, 34, 'Liberation Serif', 'normal', green),
    label('mass region', 188, 160, 55, 'Liberation Serif', 'normal', green),
    label('B', 583, 247, 55, 'Liberation Serif', 'normal', red),
    label('s', 619, 261, 34, 'Liberation Serif', 'normal', red),
    label('mass region', 647, 247, 55, 'Liberation Serif', 'normal', red),
    label('LHCb', 745, 106, 45, 'Liberation Sans', 'bold', '#000'),
    {
      type: 'text', zlevel: 2, z: 10, x: 925, y: 651,
      style: {
        text: '{a|M(}{m|\u03bc}{s|+}{a|,}{m|\u03bc}{s|-}{a|) (MeV/c}{s|2}{a|)}',
        align: 'right', verticalAlign: 'middle',
        rich: {
          a: { font: 'bold 27px "DejaVu Sans"', fill: '#000', lineHeight: 32 },
          m: { font: '27px "Liberation Serif"', fill: '#000', lineHeight: 32 },
          s: { font: 'bold 15px "DejaVu Sans"', fill: '#000', verticalAlign: 'top', lineHeight: 15 }
        }
      }
    },
    // partly visible marker at the left edge
    { type: 'polygon', zlevel: 2, z: 10, shape: { points: [[0, 113], [10, 119], [0, 125]] }, style: { fill: '#0000ff' } }
  ]);

const chart = echarts.init(document.getElementById('chart'), null, { renderer: 'canvas' });
chart.setOption({
  animation: false,
  // grid 0 carries the data; grid 1 only carries the 50 MeV minor ticks
  grid: [Object.assign({}, gridBox), Object.assign({}, gridBox)],
  xAxis: [
    massAxis('bottom', massMajorTicks, 28, true, 0),
    massAxis('top', massMajorTicks, 28, false, 0),
    massAxis('bottom', massMinorTicks, 13, false, 1),
    massAxis('top', massMinorTicks, 13, false, 1)
  ],
  yAxis: [yAxisDef('left', true, 0), yAxisDef('right', false, 0), yAxisDef('left', false, 1, true)],
  series: [
    {
      type: 'scatter', xAxisIndex: 0, yAxisIndex: 0, data: candidates, zlevel: 1,
      symbol: 'triangle', symbolSize: [11, 10], itemStyle: { color: '#0000ff', opacity: 1 }, silent: true, z: 2
    },
    {
      type: 'scatter', xAxisIndex: 0, yAxisIndex: 0, data: [], zlevel: 1, z: 5, silent: true,
      markLine: { silent: true, symbol: ['none', 'none'], label: { show: false }, animation: false, data: windowLines }
    }
  ],
  graphic: graphics
});

// Frame tick marks drawn as plain line elements, used when the axis ticks did not reach the canvas
function frameTickElements() {
  const els = [];
  const left = gridBox.left, right = chartSize[0] - gridBox.right;
  const top = gridBox.top, bottom = chartSize[1] - gridBox.bottom;
  function add(x1, y1, x2, y2) {
    els.push({ type: 'line', zlevel: 0, z: 1, silent: true,
      shape: { x1: x1, y1: y1, x2: x2, y2: y2 }, style: { stroke: '#000', lineWidth: 1.8 } });
  }
  massMinorTicks.forEach(function (m) {
    const x = toPx([m, 0])[0];
    const len = massMajorTicks.indexOf(m) >= 0 ? 28 : 13;
    add(x, bottom, x, bottom - len);
    add(x, top, x, top + len);
  });
  yMajorTicks.concat(yMinorTicks).forEach(function (v) {
    const y = toPx([massRange[0], v])[1];
    const len = yMajorTicks.indexOf(v) >= 0 ? 25 : 12;
    add(left, y, left + len, y);
    add(right, y, right - len, y);
  });
  return els;
}

function darkPixelIn(x, y, w, h) {
  const canvases = chart.getDom().querySelectorAll('canvas');
  for (let c = 0; c < canvases.length; c++) {
    try {
      const d = canvases[c].getContext('2d').getImageData(x, y, w, h).data;
      for (let i = 0; i < d.length; i += 4) {
        if (d[i + 3] > 150 && d[i] < 90 && d[i + 1] < 90 && d[i + 2] < 90) return true;
      }
    } catch (e) { /* unreadable layer */ }
  }
  return false;
}

function ensureFrameTicks(attempt) {
  const frameDrawn = darkPixelIn(300, 17, 3, 7);
  if (!frameDrawn && attempt < 10) {
    setTimeout(function () { ensureFrameTicks(attempt + 1); }, 60);
    return;
  }
  const tx = Math.round(toPx([5800, 0])[0]);
  const ticksDrawn = darkPixelIn(tx - 3, 28, 7, 10) || darkPixelIn(tx - 3, 30, 7, 10);
  if (!ticksDrawn) {
    chart.setOption({ graphic: graphics.concat(frameTickElements()) });
  }
}
ensureFrameTicks(0);
</script>
</body>
</html>
